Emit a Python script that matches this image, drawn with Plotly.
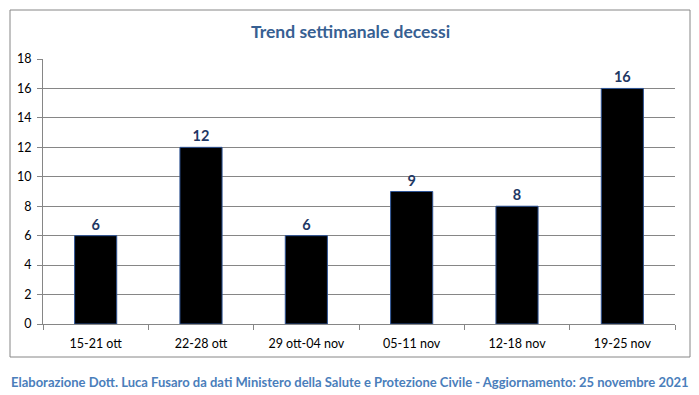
import plotly.graph_objects as go

categories = ["15-21 ott", "22-28 ott", "29 ott-04 nov", "05-11 nov", "12-18 nov", "19-25 nov"]
deaths = [6, 12, 6, 9, 8, 16]
y_ticks = [0, 2, 4, 6, 8, 10, 12, 14, 16, 18]

W, H = 699, 395
L, R, T, B = 43, 675, 59, 324  # plot area pixels

def px_x(px):
    return (px - L) / (R - L)

def px_y(py):
    return (B - py) / (B - T)

fig = go.Figure(go.Bar(
    x=categories, y=deaths, width=0.4,
    marker=dict(color="#000000", line=dict(color="#2F5597", width=1)),
    text=["<b>%d</b>" % v for v in deaths], textposition="outside",
    textfont=dict(family="Lato", size=14.5, color="#1F3864"),
    cliponaxis=False,
))

fig.update_layout(
    width=W, height=H,
    margin=dict(l=L, r=W - R, t=T, b=H - B),
    paper_bgcolor="white", plot_bgcolor="white",
    font=dict(family="Lato", size=12, color="#000000"),
    showlegend=False,
    xaxis=dict(
        type="category", showgrid=False, showline=True, linecolor="#868686", linewidth=1,
        ticks="outside", tickson="boundaries", ticklen=5, tickcolor="#868686",
        tickfont=dict(family="Lato", size=12.5, color="#000000"), ticklabelstandoff=8,
    ),
    yaxis=dict(
        range=[0, 18], tickvals=y_ticks, showgrid=True, gridcolor="#868686", gridwidth=1,
        showline=True, linecolor="#868686", linewidth=1, ticks="outside", ticklen=5,
        tickcolor="#868686", tickfont=dict(family="Lato", size=12.5, color="#000000"),
        zeroline=False, ticklabelstandoff=3,
    ),
    shapes=[dict(
        type="rect", xref="paper", yref="paper",
        x0=px_x(10), x1=px_x(690), y0=px_y(357), y1=px_y(10),
        line=dict(color="#868686", width=1), fillcolor="rgba(0,0,0,0)", layer="below",
    )],
    annotations=[
        dict(text="<b>Trend settimanale decessi</b>", xref="paper", yref="paper",
             x=px_x(350), y=px_y(31), xanchor="center", yanchor="middle", showarrow=False,
             font=dict(family="Lato", size=17.5, color="#376092")),
        dict(text="<b>Elaborazione Dott. Luca Fusaro da dati Ministero della Salute e Protezione Civile - Aggiornamento: 25 novembre 2021</b>",
             xref="paper", yref="paper", x=px_x(350), y=px_y(382), xanchor="center", yanchor="middle",
             showarrow=False, font=dict(family="Lato", size=13, color="#4A7EBB")),
    ],
)

fig.write_html("out.html", config={"displayModeBar": False},
               post_script="document.body.style.margin='0';document.body.style.padding='0';")
